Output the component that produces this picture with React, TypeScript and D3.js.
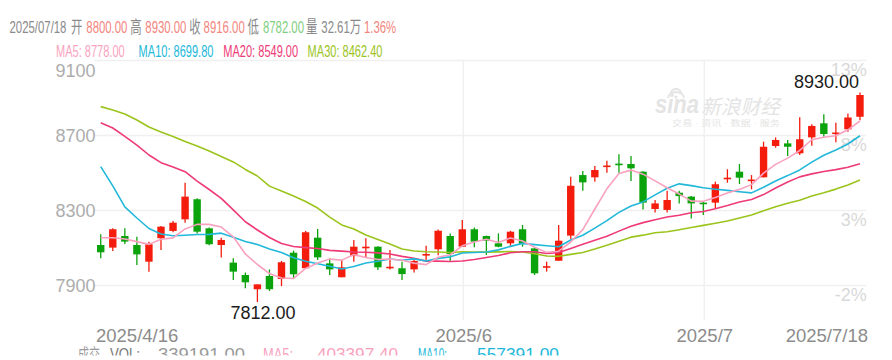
import React from "react";
import * as d3 from "d3";

// ---------- data ----------
const dates = [
  "2025-04-16", "2025-04-17", "2025-04-18", "2025-04-21", "2025-04-22", "2025-04-23", "2025-04-24", "2025-04-25",
  "2025-04-28", "2025-04-29", "2025-04-30",
  "2025-05-06", "2025-05-07", "2025-05-08", "2025-05-09", "2025-05-12", "2025-05-13", "2025-05-14", "2025-05-15",
  "2025-05-16", "2025-05-19", "2025-05-20", "2025-05-21", "2025-05-22", "2025-05-23", "2025-05-26", "2025-05-27",
  "2025-05-28", "2025-05-29", "2025-05-30",
  "2025-06-03", "2025-06-04", "2025-06-05", "2025-06-06", "2025-06-09", "2025-06-10", "2025-06-11", "2025-06-12",
  "2025-06-13", "2025-06-16", "2025-06-17", "2025-06-18", "2025-06-19", "2025-06-20", "2025-06-23", "2025-06-24",
  "2025-06-25", "2025-06-26", "2025-06-27", "2025-06-30",
  "2025-07-01", "2025-07-02", "2025-07-03", "2025-07-04", "2025-07-07", "2025-07-08", "2025-07-09", "2025-07-10",
  "2025-07-11", "2025-07-14", "2025-07-15", "2025-07-16", "2025-07-17", "2025-07-18",
];

const opens = [
  8116, 8102, 8164, 8116, 8027, 8152, 8191, 8253, 8360, 8205, 8116, 8022, 7956, 7880, 7951, 7935,
  8075, 7992, 8155, 8018, 7944, 8057, 8102, 8107, 7995, 7992, 7986, 8065, 8093, 8164, 8107, 8200,
  8164, 8125, 8125, 8200, 8098, 7998, 8032, 8166, 8489, 8477, 8535, 8550, 8548, 8507, 8308, 8303,
  8395, 8374, 8342, 8342, 8470, 8507, 8460, 8477, 8644, 8658, 8605, 8690, 8765, 8710, 8733, 8800,
];
const highs = [
  8173, 8205, 8205, 8160, 8134, 8217, 8244, 8448, 8365, 8210, 8155, 8045, 7970, 7906, 7986, 8031,
  8086, 8191, 8201, 8045, 8036, 8143, 8152, 8110, 8089, 8027, 8036, 8112, 8199, 8178, 8249, 8210,
  8166, 8178, 8192, 8223, 8100, 8027, 8223, 8480, 8511, 8537, 8566, 8600, 8591, 8510, 8356, 8406,
  8406, 8378, 8347, 8454, 8520, 8548, 8489, 8667, 8690, 8676, 8797, 8760, 8813, 8768, 8818, 8930,
];
const lows = [
  8045, 8084, 8121, 8009, 7974, 8089, 8184, 8235, 8178, 8115, 8050, 7929, 7885, 7812, 7871, 7897,
  7935, 7992, 8036, 7956, 7944, 8027, 8050, 7983, 7986, 7929, 7970, 8036, 8061, 8032, 8107, 8104,
  8063, 8104, 8107, 8107, 7956, 7974, 8032, 8148, 8406, 8454, 8502, 8502, 8457, 8306, 8290, 8290,
  8338, 8258, 8276, 8312, 8448, 8441, 8413, 8477, 8635, 8591, 8596, 8646, 8694, 8664, 8720, 8782,
];
const closes = [
  8077, 8200, 8134, 8066, 8120, 8214, 8235, 8374, 8187, 8120, 8143, 7974, 7917, 7906, 7880, 8024,
  7960, 8184, 8050, 7986, 7997, 8107, 8107, 7997, 8000, 7961, 8031, 8068, 8192, 8068, 8200, 8134,
  8139, 8107, 8187, 8121, 7965, 8003, 8139, 8432, 8450, 8516, 8540, 8546, 8525, 8342, 8338, 8356,
  8377, 8338, 8335, 8440, 8475, 8475, 8465, 8640, 8676, 8640, 8680, 8751, 8708, 8716, 8796, 8916,
];

// MA values for the bars whose window starts before the first bar shown
const ma5Lead = [8155, 8155, 8148, 8134];
const ma10Lead = [8534, 8431, 8319, 8260, 8204, 8175, 8165, 8168, 8172];
const ma20Lead = [
  8768, 8740, 8695, 8649, 8596, 8555, 8532, 8507, 8457, 8412, 8365, 8303, 8240, 8196, 8156, 8124,
  8108, 8102, 8097,
];
const ma30Lead = [
  8854, 8836, 8815, 8783, 8745, 8719, 8695, 8668, 8644, 8617, 8588, 8559, 8519, 8484, 8430, 8404,
  8377, 8348, 8313, 8265, 8223, 8201, 8169, 8145, 8121, 8095, 8084, 8080, 8079,
];

const maPeriods = [5, 10, 20, 30];
const maNames = ["MA5", "MA10", "MA20", "MA30"];
const maHeaderValues = [8778.0, 8699.8, 8549.0, 8462.4];

const priceTicks = [7900, 8300, 8700, 9100];
const pctTickLabels = ["-2%", "3%", "8%", "13%"];
const xTickDates = ["2025-04-16", "2025-06-03", "2025-07-01", "2025-07-18"];
const xTickLabels = ["2025/4/16", "2025/6", "2025/7", "2025/7/18"];

const lastVolumeText = "32.61万";
const volRowValues = ["339191.00", "403397.40", "557391.00"];

// ---------- styling ----------
const LATIN = '"Liberation Sans", Arial, Helvetica, sans-serif';
const CJK = '"Liberation Sans", "Noto Sans CJK SC", sans-serif';
const UP = "#f41d0d";
const DOWN = "#0ba30b";
const UP_TXT = "#f3857d";
const DOWN_TXT = "#7fcf7f";
const GREY_TXT = "#8a8a8a";
const MA_COLORS = ["#f9a2c0", "#22b8da", "#ee3a76", "#9bc41d"];
const GRID = "#f0f0f0";

const W = 892;
const H = 360;
const PLOT = { left: 94.7, right: 866, top: 60.5, bottom: 320 };

// condensed header text: each item is placed at its own x and squeezed horizontally
type CProps = { x: number; y: number; sx: number; size: number; fill: string; family?: string; children: React.ReactNode };
const C = ({ x, y, sx, size, fill, family, children }: CProps) => (
  <text transform={`translate(${x},${y}) scale(${sx},1)`} x={0} y={0} fontSize={size} fill={fill}
    fontFamily={family || CJK}>{children}</text>
);

export default function App() {
  const n = closes.length;
  const x = d3.scaleBand<number>().domain(d3.range(n)).range([PLOT.left, PLOT.right]).paddingInner(0);
  const cx = (i: number) => (x(i) as number) + x.bandwidth() / 2;
  const y = d3.scaleLinear().domain([7900, 9100]).range([285.5, 60.5]);

  const leads = [ma5Lead, ma10Lead, ma20Lead, ma30Lead];
  const maSeries = maPeriods.map((p, k) =>
    closes.map((_, i) => (i < p - 1 ? leads[k][i] : (d3.mean(closes.slice(i - p + 1, i + 1)) as number)))
  );
  const line = d3.line<number>().x((_, i) => cx(i)).y((v) => y(v));

  const bodyW = 7.4;
  const last = n - 1;
  const minIdx = d3.minIndex(lows);
  const maxIdx = d3.maxIndex(highs);
  const changePct = ((closes[last] / closes[last - 1] - 1) * 100).toFixed(2) + "%";

  const xTickIdx = xTickDates.map((d) => dates.indexOf(d));

  const S1 = 0.67;
  const Y1 = 32.7;
  const S2 = 0.69;

  return (
    <svg width={W} height={H} style={{ position: "absolute", left: 0, top: 0, background: "#fff" }}>
      <defs>
        <clipPath id="bottomClip">
          <rect x={0} y={0} width={W} height={355.5} />
        </clipPath>
      </defs>

      {/* header line 1 */}
      <g>
        <C x={9.5} y={Y1} sx={S1} size={17} fill={GREY_TXT} family={LATIN}>2025/07/18</C>
        <C x={71} y={Y1} sx={S1} size={17} fill={GREY_TXT}>开</C>
        <C x={86.3} y={Y1} sx={S1} size={17} fill={UP_TXT} family={LATIN}>{opens[last].toFixed(2)}</C>
        <C x={130.3} y={Y1} sx={S1} size={17} fill={GREY_TXT}>高</C>
        <C x={145.3} y={Y1} sx={S1} size={17} fill={UP_TXT} family={LATIN}>{highs[last].toFixed(2)}</C>
        <C x={189.3} y={Y1} sx={S1} size={17} fill={GREY_TXT}>收</C>
        <C x={203.6} y={Y1} sx={S1} size={17} fill={UP_TXT} family={LATIN}>{closes[last].toFixed(2)}</C>
        <C x={247.6} y={Y1} sx={S1} size={17} fill={GREY_TXT}>低</C>
        <C x={262.9} y={Y1} sx={S1} size={17} fill={DOWN_TXT} family={LATIN}>{lows[last].toFixed(2)}</C>
        <C x={306} y={Y1} sx={S1} size={17} fill={GREY_TXT}>量</C>
        <C x={321.3} y={Y1} sx={S1} size={17} fill={GREY_TXT}>{lastVolumeText}</C>
        <C x={363.9} y={Y1} sx={S1} size={17} fill={UP_TXT} family={LATIN}>{changePct}</C>
      </g>

      {/* header line 2: MA legend */}
      <g>
        {maNames.map((name, k) => {
          const xs = [56, 138.6, 223.3, 307.6];
          return (
            <C key={name} x={xs[k]} y={56.5} sx={S2} size={16} fill={MA_COLORS[k]} family={LATIN}>
              {`${name}: ${maHeaderValues[k].toFixed(2)}`}
            </C>
          );
        })}
      </g>

      {/* grid */}
      <g>
        {priceTicks.map((t) => (
          <line key={t} x1={PLOT.left} x2={PLOT.right} y1={y(t)} y2={y(t)} stroke={GRID} strokeWidth={1.5} />
        ))}
        {xTickIdx.slice(1, 3).map((i) => (
          <line key={i} x1={cx(i) + 1} x2={cx(i) + 1} y1={PLOT.top} y2={PLOT.bottom} stroke={GRID} strokeWidth={1.5} />
        ))}
      </g>

      {/* watermark */}
      <g fill="#e4e4e4" fontFamily={CJK}>
        <path d="M668,98 a8,6 0 0,1 16,0" fill="none" stroke="#e4e4e4" strokeWidth={2} />
        <path d="M671,93 a5,4 0 0,1 10,0" fill="none" stroke="#e4e4e4" strokeWidth={2} />
        <circle cx={676} cy={97} r={1.6} />
        <text x={655} y={113} fontSize={25} fontStyle="italic" fontWeight="bold" textLength={44}
          lengthAdjust="spacingAndGlyphs" fontFamily={LATIN}>sina</text>
        <text x={701} y={114} fontSize={20} fontStyle="italic" textLength={79}
          lengthAdjust="spacingAndGlyphs">新浪财经</text>
        <text x={672} y={125.5} fontSize={8} textLength={108} lengthAdjust="spacingAndGlyphs">
          交易 · 资讯 · 数据 · 服务
        </text>
      </g>

      {/* left price axis */}
      <g fontFamily={LATIN} fontSize={18} fill="#adadad" textAnchor="end">
        {priceTicks.map((t, k) => (
          <text key={t} x={95.5} y={k === priceTicks.length - 1 ? y(t) + 16.5 : y(t) + 6.3}>{t}</text>
        ))}
      </g>

      {/* right percent axis */}
      <g fontFamily={LATIN} fontSize={18} fill="#d9d9d9" textAnchor="end">
        {priceTicks.map((t, k) => (
          <text key={t} x={866.8} y={y(t) + 15.6}>{pctTickLabels[k]}</text>
        ))}
      </g>

      {/* candles */}
      <g>
        {closes.map((c, i) => {
          const o = opens[i];
          const up = c >= o;
          const col = up ? UP : DOWN;
          const yTop = Math.min(y(o), y(c));
          const hBody = Math.max(1.6, Math.abs(y(o) - y(c)));
          return (
            <g key={i}>
              <line x1={cx(i)} x2={cx(i)} y1={y(highs[i])} y2={y(lows[i])} stroke={col} strokeWidth={1.3} />
              <rect x={cx(i) - bodyW / 2} y={yTop} width={bodyW} height={hBody} fill={col} />
            </g>
          );
        })}
      </g>

      {/* moving averages */}
      <g fill="none" strokeWidth={1.6} strokeLinejoin="round">
        {[3, 2, 1, 0].map((k) => (
          <path key={k} d={line(maSeries[k] as number[]) || ""} stroke={MA_COLORS[k]} />
        ))}
      </g>

      {/* extreme labels */}
      <g fontFamily={LATIN} fontSize={18} fill="#1c1c1c">
        <text x={cx(maxIdx) - 1} y={y(highs[maxIdx]) - 4} textAnchor="end">{highs[maxIdx].toFixed(2)}</text>
        <text x={cx(minIdx) - 27} y={y(lows[minIdx]) + 17.3} textAnchor="start">{lows[minIdx].toFixed(2)}</text>
      </g>

      {/* x axis labels */}
      <g fontFamily={LATIN} fontSize={18.5} fill="#8c8c8c">
        {xTickIdx.map((i, k) => {
          const anchor = k === 0 ? "start" : k === xTickIdx.length - 1 ? "end" : "middle";
          const xx = k === 0 ? 96 : k === xTickIdx.length - 1 ? 868 : cx(i) + 1.5;
          return (
            <text key={k} x={xx} y={341.5} textAnchor={anchor}>{xTickLabels[k]}</text>
          );
        })}
      </g>

      {/* volume legend row (cut off at the bottom, as in the reference) */}
      <g clipPath="url(#bottomClip)">
        <text x={78} y={360} fontSize={16} fill="#9a9a9a" fontFamily={CJK} textLength={22} lengthAdjust="spacingAndGlyphs">成交</text>
        <text x={110} y={360} fontSize={16} fill="#777" fontFamily={LATIN} textLength={30} lengthAdjust="spacingAndGlyphs">VOL:</text>
        <text x={158} y={360} fontSize={16} fill="#9a9a9a" fontFamily={LATIN} textLength={87} lengthAdjust="spacingAndGlyphs">{volRowValues[0]}</text>
        <text x={263} y={360} fontSize={16} fill={MA_COLORS[0]} fontFamily={LATIN} textLength={30} lengthAdjust="spacingAndGlyphs">MA5:</text>
        <text x={317} y={360} fontSize={16} fill={MA_COLORS[0]} fontFamily={LATIN} textLength={81} lengthAdjust="spacingAndGlyphs">{volRowValues[1]}</text>
        <text x={418} y={360} fontSize={16} fill={MA_COLORS[1]} fontFamily={LATIN} textLength={29} lengthAdjust="spacingAndGlyphs">MA10:</text>
        <text x={477} y={360} fontSize={16} fill={MA_COLORS[1]} fontFamily={LATIN} textLength={82} lengthAdjust="spacingAndGlyphs">{volRowValues[2]}</text>
      </g>
    </svg>
  );
}
